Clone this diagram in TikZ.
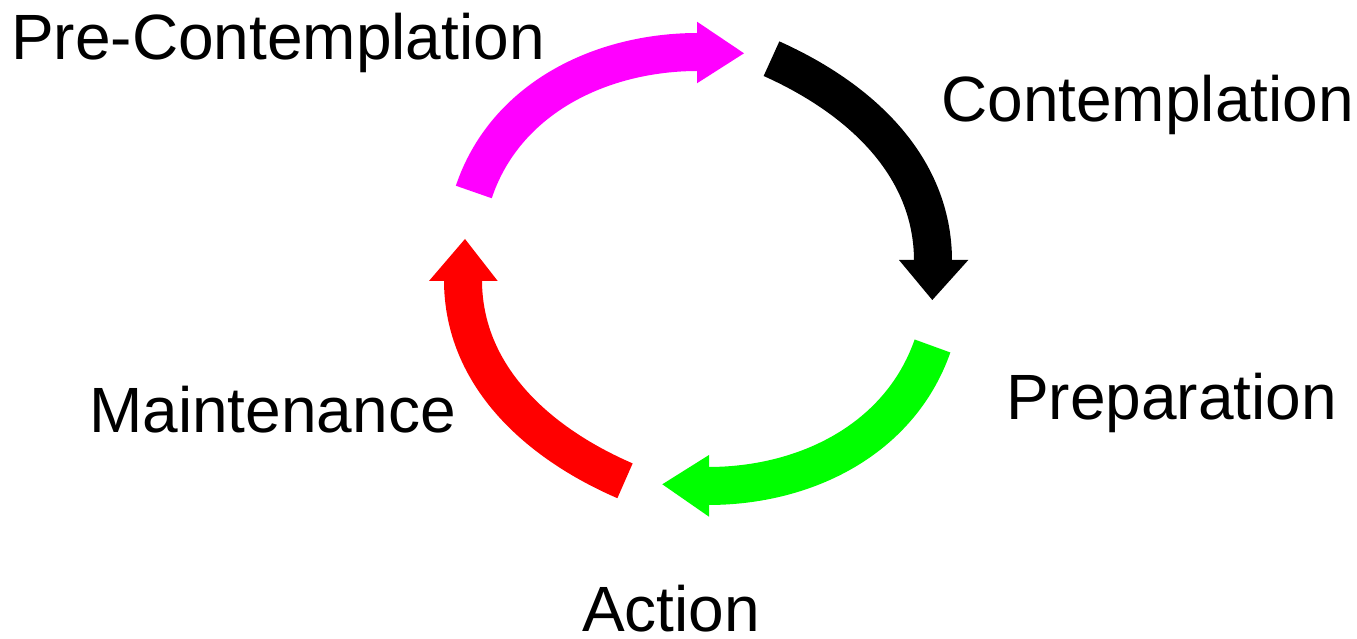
\documentclass[tikz,border=0pt]{standalone}
\usepackage{fontspec}
\setmainfont{Liberation Sans}
\definecolor{cmag}{RGB}{255,0,255}
\definecolor{cgreen}{RGB}{0,255,0}
\definecolor{cred}{RGB}{255,0,0}
\begin{document}
\begin{tikzpicture}[x=1pt,y=1pt,
  lbl/.style={anchor=base west,inner sep=0pt,font=\fontsize{64}{70}\selectfont},
  shaft/.style={line width=38pt,line cap=butt}]
\useasboundingbox (0,0) rectangle (1357,639);
% Pre-Contemplation arrow (magenta)
\draw[shaft,cmag] (473.8,447) .. controls (505.0,540.1) and (600,587) .. (698,587);
\fill[cmag] (697,617.3) -- (744,585.7) -- (697,555.7) -- cycle;
% Contemplation arrow (black)
\draw[shaft,black] (771.5,580.3) .. controls (858.4,541.4) and (933,474.4) .. (933,378);
\fill[black] (899,379) -- (932.3,339) -- (968.3,379) -- cycle;
% Preparation arrow (green)
\draw[shaft,cgreen] (932.5,293) .. controls (899.7,199.6) and (805.8,153) .. (708,153);
\fill[cgreen] (709,184) -- (662.3,154.7) -- (709,122.3) -- cycle;
% Action/Maintenance arrow (red)
\draw[shaft,cred] (625,158.2) .. controls (537.9,195.9) and (463,262.9) .. (463,359);
\fill[cred] (429,358) -- (465,400) -- (497.7,358) -- cycle;
% labels
\node[lbl] (pre) at (11,579) {Pre-Contemplation};
\node[lbl] (con) at (941,517) {Contemplation};
\node[lbl] (prep) at (1006,219) {Preparation};
\node[lbl] (main) at (89,206) {Maintenance};
\node[lbl] (act) at (582,7) {Action};
\end{tikzpicture}
\end{document}
